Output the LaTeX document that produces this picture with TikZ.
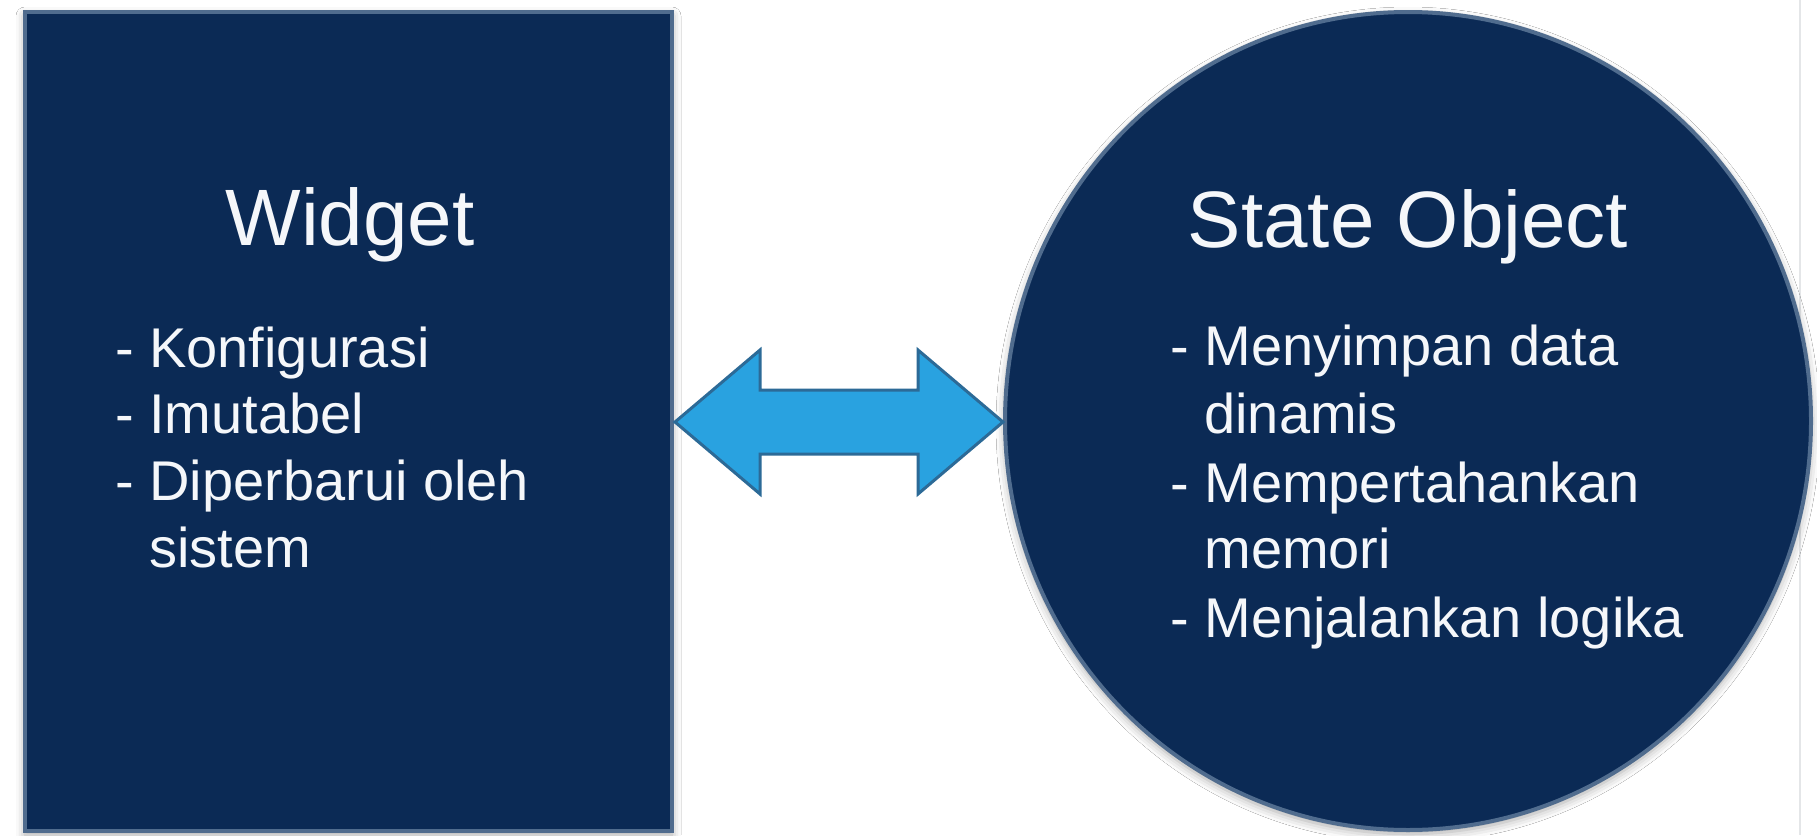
\documentclass[tikz,border=0pt]{standalone}
\usepackage{fontspec}
\setmainfont{Liberation Sans}
\usetikzlibrary{shapes.geometric,shadows.blur}

\definecolor{navy}{HTML}{0B2A55}
\definecolor{navyedge}{HTML}{506C8E}
\definecolor{skyfill}{HTML}{29A2E0}
\definecolor{skyedge}{HTML}{2C6A97}
\definecolor{inktext}{HTML}{F5F7FA}
\definecolor{frameline}{HTML}{E4E6E8}

\tikzset{
  panel/.style={draw=navyedge, line width=4pt, fill=navy,
    blur shadow={shadow xshift=0pt, shadow yshift=-4pt,
                 shadow blur radius=9pt, shadow opacity=35}},
  title/.style={text=inktext, font=\fontsize{80}{96}\selectfont,
    inner sep=0pt, anchor=base},
  item/.style={text=inktext, font=\fontsize{56}{67}\selectfont,
    inner sep=0pt, anchor=base west},
  linkarrow/.style={draw=skyedge, line width=3pt, fill=skyfill,
    line join=miter}
}

\begin{document}
\begin{tikzpicture}[x=1pt,y=-1pt]
  \useasboundingbox[fill=white] (0,0) rectangle (1817,835);

  % thin frame line on the right
  \draw[frameline, line width=2pt] (1800,0) -- (1800,835);

  % left panel: the widget
  \node[panel, rectangle, inner sep=0pt,
        minimum width=647pt, minimum height=819pt] (widget) at (348.5,421.5) {};
  \node[title] (widgetTitle) at (350,245) {Widget};
  \node[item] (w1) at (115,367) {- Konfigurasi};
  \node[item] (w2) at (115,433) {- Imutabel};
  \node[item] (w3) at (115,500) {- Diperbarui oleh};
  \node[item] (w4) at (115,567) {\phantom{- }sistem};

  % right panel: the state object
  \node[panel, ellipse, inner sep=0pt,
        minimum width=806pt, minimum height=818pt] (state) at (1408,421) {};
  \node[title] (stateTitle) at (1408,247) {State Object};
  \node[item] (s1) at (1170,365) {- Menyimpan data};
  \node[item] (s2) at (1170,433) {\phantom{- }dinamis};
  \node[item] (s3) at (1170,502) {- Mempertahankan};
  \node[item] (s4) at (1170,568) {\phantom{- }memori};
  \node[item] (s5) at (1170,637) {- Menjalankan logika};

  % two-way link between the panels
  \coordinate (lt) at (675,422);
  \coordinate (rt) at (1003,422);
  \draw[linkarrow] (lt) -- ++(85,-72) -- ++(0,40) -- ++(158,0) -- ++(0,-40)
    -- (rt) -- ++(-85,72) -- ++(0,-40) -- ++(-158,0) -- ++(0,40) -- cycle;
\end{tikzpicture}
\end{document}
